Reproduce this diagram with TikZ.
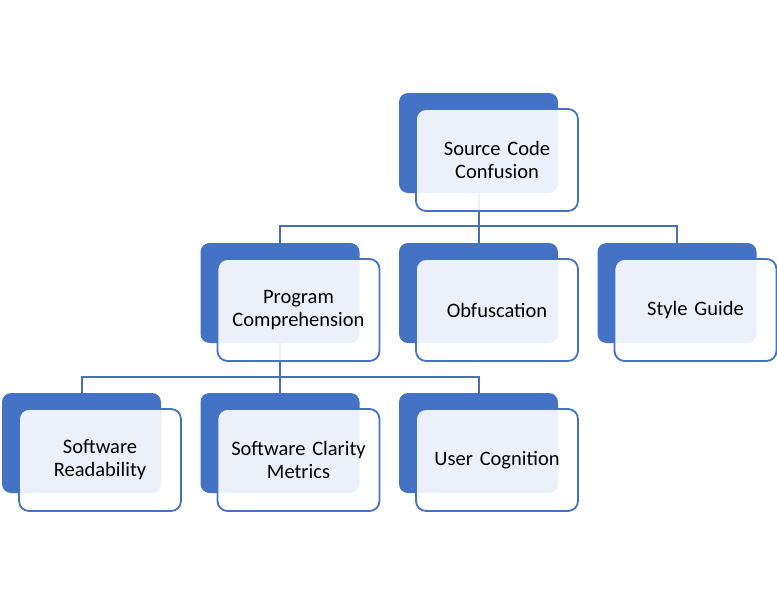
\documentclass[tikz,border=0pt]{standalone}
\usepackage{fontspec}
\setmainfont{Carlito}
\definecolor{sablue}{HTML}{4472C4}
\definecolor{saline}{HTML}{4A6FB5}
\begin{document}
\begin{tikzpicture}[x=1pt,y=-1pt,
  backbox/.style={fill=sablue, rounded corners=9pt, minimum width=159pt, minimum height=100pt, inner sep=0pt},
  frontbox/.style={fill=white, fill opacity=0.9, text opacity=1, draw=sablue, draw opacity=1, line width=1.8pt, rounded corners=10pt, minimum width=162pt, minimum height=102pt, inner sep=2pt, align=center, text width=150pt, font=\fontsize{20.5}{23}\selectfont},
  conn/.style={draw=saline, line width=2pt}]
\useasboundingbox (0,0) rectangle (777,605);
% back boxes
\node[backbox] (A) at (478.5,143) {};
\node[backbox] (B) at (280,293) {};
\node[backbox] (C) at (478.5,293) {};
\node[backbox] (D) at (677,293) {};
\node[backbox] (E) at (81.5,443) {};
\node[backbox] (F) at (280,443) {};
\node[backbox] (G) at (478.5,443) {};
% connectors
\draw[conn] (A.south) -- ++(0,33) -| (B.north);
\draw[conn] (A.south) -- ++(0,33) -| (C.north);
\draw[conn] (A.south) -- ++(0,33) -| (D.north);
\draw[conn] (B.south) -- ++(0,34) -| (E.north);
\draw[conn] (B.south) -- ++(0,34) -| (F.north);
\draw[conn] (B.south) -- ++(0,34) -| (G.north);
% front boxes
\node[frontbox] (a) at (497,160) {Source Code\\Confusion};
\node[frontbox] (b) at (298.5,310) {Program\\Comprehension};
\node[frontbox] (c) at (497,310) {Obfuscation};
\node[frontbox] (d) at (695.5,310) {Style Guide};
\node[frontbox] (e) at (100,460) {Software\\Readability};
\node[frontbox] (f) at (298.5,460) {Software Clarity\\Metrics};
\node[frontbox] (g) at (497,460) {User Cognition};
\end{tikzpicture}
\end{document}
